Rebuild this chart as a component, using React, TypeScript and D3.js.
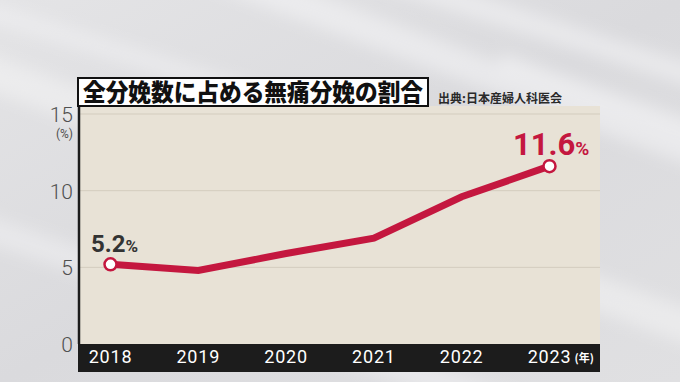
import React from "react";
import * as d3 from "d3";

const years = ["2018", "2019", "2020", "2021", "2022", "2023"];
const rates = [5.2, 4.8, 5.9, 6.9, 9.6, 11.6];
const yTicks = [0, 5, 10, 15];
const gridTicks = [5, 10, 15];
const title = "全分娩数に占める無痛分娩の割合";
const source = "出典:日本産婦人科医会";
const labeledIdx = [0, 5];

const W = 680;
const H = 382;

export default function App() {
  const x = d3.scalePoint<string>().domain(years).range([110.5, 549.5]);
  const y = d3.scaleLinear().domain([0, 15]).range([344, 114]);
  const line = d3
    .line<number>()
    .x((_, i) => x(years[i]) as number)
    .y((d) => y(d));

  const plotL = 79;
  const plotR = 600;
  const plotT = 106;
  const plotB = y(0);

  const streaks = [
    { x1: -100, y1: 40, x2: 780, y2: 360, w: 34, o: 0.45 },
    { x1: 100, y1: -70, x2: 800, y2: 190, w: 30, o: 0.5 },
    { x1: 330, y1: -40, x2: 800, y2: 110, w: 22, o: 0.5 },
    { x1: -100, y1: 200, x2: 700, y2: 470, w: 26, o: 0.4 },
    { x1: -50, y1: 0, x2: 500, y2: 170, w: 18, o: 0.4 },
    { x1: 500, y1: 60, x2: 780, y2: 160, w: 16, o: 0.5 },
  ];

  return (
    <svg
      width={W}
      height={H}
      style={{ position: "fixed", left: 0, top: 0 }}
      xmlns="http://www.w3.org/2000/svg"
    >
      <defs>
        <linearGradient id="bg" x1="0" y1="0" x2="1" y2="1">
          <stop offset="0" stopColor="#e4e4e6" />
          <stop offset="0.5" stopColor="#dadadd" />
          <stop offset="1" stopColor="#e0e0e2" />
        </linearGradient>
        <filter id="blur" x="-20%" y="-50%" width="140%" height="200%">
          <feGaussianBlur stdDeviation="8" />
        </filter>
      </defs>
      <rect x={0} y={0} width={W} height={H} fill="url(#bg)" />
      <g filter="url(#blur)">
        {streaks.map((s, i) => (
          <line
            key={i}
            x1={s.x1}
            y1={s.y1}
            x2={s.x2}
            y2={s.y2}
            stroke="#f8f8f9"
            strokeWidth={s.w}
            opacity={s.o}
          />
        ))}
      </g>

      {/* plot background */}
      <rect x={plotL} y={plotT} width={plotR - plotL} height={plotB - plotT} fill="#e8e2d6" />
      {gridTicks.map((t) => (
        <line key={t} x1={plotL} x2={plotR} y1={y(t)} y2={y(t)} stroke="#d3ccbe" strokeWidth={1} />
      ))}
      <line x1={plotL} x2={plotL} y1={plotT} y2={plotB} stroke="#1c1c1c" strokeWidth={2.5} />

      {/* x axis bar */}
      <rect x={78} y={plotB} width={plotR - 78} height={28} fill="#1c1c1c" />
      {years.map((yr) => (
        <text
          key={yr}
          x={x(yr)}
          y={plotB + 19}
          textAnchor="middle"
          fill="#ffffff"
          fontFamily="Roboto, 'Noto Sans', sans-serif"
          fontSize={18}
          fontWeight={400}
          letterSpacing={0.8}
        >
          {yr}
        </text>
      ))}
      <text
        x={(x("2023") as number) + 25}
        y={plotB + 18}
        fill="#ffffff"
        fontFamily="'Noto Sans CJK JP', sans-serif"
        fontSize={11}
        fontWeight={700}
      >
        (年)
      </text>

      {/* y tick labels */}
      {yTicks.map((t) => (
        <text
          key={t}
          x={73}
          y={y(t) + 8}
          textAnchor="end"
          fill="#505050"
          fontFamily="Roboto, 'Noto Sans', sans-serif"
          fontSize={21}
          fontWeight={300}
        >
          {t}
        </text>
      ))}
      <text
        x={73}
        y={y(15) + 24}
        textAnchor="end"
        fill="#505050"
        fontFamily="Roboto, 'Noto Sans', sans-serif"
        fontSize={12}
      >
        (%)
      </text>

      {/* title */}
      <rect x={78} y={78} width={350} height={28} fill="#ffffff" stroke="#111" strokeWidth={2} />
      <text
        x={253}
        y={101}
        textAnchor="middle"
        fill="#111"
        fontFamily="'Noto Sans CJK JP', sans-serif"
        fontSize={23.5}
        fontWeight={900}
        textLength={340}
        lengthAdjust="spacingAndGlyphs"
      >
        {title}
      </text>
      <text
        x={438}
        y={103}
        fill="#2a2a2a"
        fontFamily="'Noto Sans CJK JP', sans-serif"
        fontSize={12}
        fontWeight={700}
      >
        {source}
      </text>

      {/* line */}
      <path
        d={line(rates) || ""}
        fill="none"
        stroke="#c4173f"
        strokeWidth={7}
        strokeLinejoin="miter"
        strokeLinecap="butt"
      />
      {labeledIdx.map((i) => (
        <circle
          key={i}
          cx={x(years[i])}
          cy={y(rates[i])}
          r={6}
          fill="#ffffff"
          stroke="#c4173f"
          strokeWidth={2.5}
        />
      ))}

      {/* value labels */}
      <text
        x={91}
        y={y(rates[0]) - 12}
        fill="#333333"
        fontFamily="Roboto, 'Noto Sans', sans-serif"
        fontWeight={700}
      >
        <tspan fontSize={24}>{rates[0].toFixed(1)}</tspan>
        <tspan fontSize={17}>%</tspan>
      </text>
      <text
        x={513}
        y={y(rates[5]) - 11}
        fill="#c4173f"
        fontFamily="Roboto, 'Noto Sans', sans-serif"
        fontWeight={700}
      >
        <tspan fontSize={31}>{rates[5].toFixed(1)}</tspan>
        <tspan fontSize={19}>%</tspan>
      </text>
    </svg>
  );
}
